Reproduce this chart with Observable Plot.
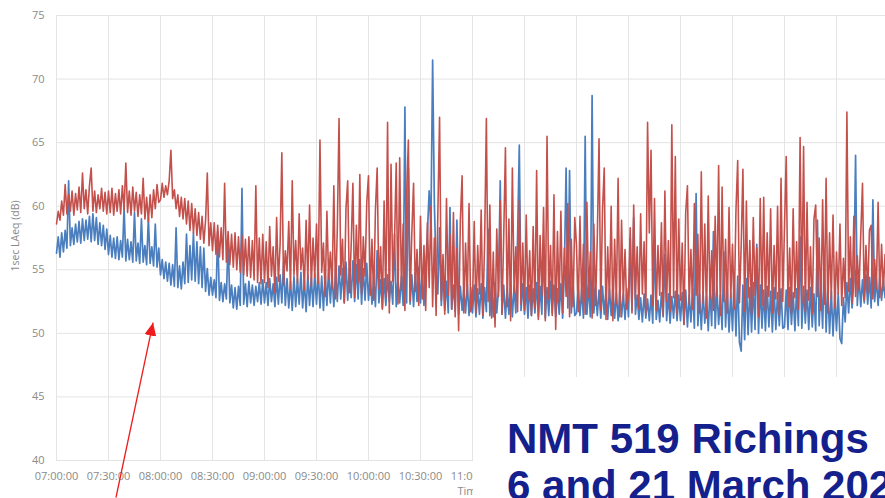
<!DOCTYPE html>
<html>
<head>
<meta charset="utf-8">
<script src="https://cdn.jsdelivr.net/npm/d3@7"></script>
<script src="https://cdn.jsdelivr.net/npm/@observablehq/plot@0.6"></script>
<style>
  html, body { margin: 0; padding: 0; background: #fff; }
  #wrap { position: relative; width: 885px; height: 498px; overflow: hidden; }
  #overlay { position: absolute; left: 0; top: 0; pointer-events: none; }
</style>
</head>
<body>
<div id="wrap"></div>
<script>
// ---- Data (1-minute samples, starting 07:00:00) ----
const stepMinutes = 1;

const gridMinutes = [0, 30, 60, 90, 120, 150, 180, 210, 240, 270, 300, 330, 360, 390, 420, 450];
const xTickMinutes = [0, 30, 60, 90, 120, 150, 180, 210, 240];
const xTickLabels = ["07:00:00","07:30:00","08:00:00","08:30:00","09:00:00","09:30:00","10:00:00","10:30:00","11:00:00"];
const yTicks = [40, 45, 50, 55, 60, 65, 70, 75];

const seriesBlueName = "6 March";
const seriesRedName = "21 March";

const blueRows = [
 [56.3,57.6,56.0,57.9,56.4,58.1,56.7,62.0,56.9,58.3,57.0,58.6,57.2,58.8,57.1,59.0,57.3,58.9,57.4,59.2,57.2,59.4,57.3,59.1,57.0,58.7,56.9,58.5,56.6,58.2],
 [56.2,57.7,56.0,57.5,55.9,57.6,55.8,57.3,56.0,59.9,55.7,57.4,55.8,57.2,55.6,59.5,55.7,57.1,55.5,59.0,55.6,56.9,55.4,59.1,55.5,56.8,55.3,58.6,55.2,56.7],
 [54.6,55.8,54.3,55.6,54.1,55.5,53.8,55.4,53.7,58.3,53.6,55.3,53.5,55.6,53.9,57.8,54.0,56.9,54.2,57.9,54.1,57.2,53.9,56.8,53.6,56.7,53.3,55.1,53.0,54.4],
 [53.0,54.2,52.8,58.0,52.6,54.0,52.5,53.9,52.7,57.5,52.4,53.8,52.0,53.6,51.9,53.7,52.2,61.4,52.3,53.9,52.1,54.1,52.4,53.8,52.2,53.7,52.5,54.0,52.3,54.2],
 [52.4,54.0,52.2,54.3,52.5,53.9,52.1,54.4,52.3,54.6,52.4,55.6,52.2,54.3,52.0,54.1,51.8,54.5,52.1,54.3,52.3,54.8,52.0,54.2,51.7,54.6,52.2,54.4,52.1,54.7],
 [52.3,54.8,52.0,54.5,51.8,54.7,52.2,55.0,52.4,54.6,52.1,54.9,52.5,55.3,52.7,55.1,52.4,55.6,52.6,55.2,52.8,55.7,52.5,55.4,52.7,55.8,52.3,55.1,52.6,55.5],
 [52.6,54.6,52.3,54.4,52.1,56.5,52.4,54.2,52.0,54.3,52.2,54.6,52.5,54.1,52.3,57.8,52.1,54.3,52.4,54.5,52.2,67.8,52.4,63.0,52.3,54.6,52.1,54.8,52.5,55.2],
 [52.4,54.9,52.2,55.3,58.0,61.2,58.4,71.5,60.2,55.0,53.1,58.3,52.2,54.8,51.8,54.1,51.6,59.9,51.9,53.8,51.7,58.9,51.5,53.7,51.8,53.5,51.6,53.9,51.4,53.6],
 [51.6,53.8,51.3,53.5,51.5,53.9,51.2,53.6,51.7,58.2,51.4,53.7,51.3,54.0,51.6,53.5,62.0,51.5,53.8,51.2,53.6,51.5,54.1,51.3,53.7,51.6,57.5,64.8,51.8,53.9],
 [51.5,53.6,51.2,53.8,51.4,53.5,51.6,54.0,51.3,53.7,51.5,56.9,51.2,53.6,51.4,54.1,51.6,53.8,51.3,53.5,51.5,53.9,51.2,55.0,63.0,52.0,62.8,51.6,54.0,51.4],
 [51.6,53.7,51.4,53.5,51.2,65.5,51.5,53.8,51.3,68.7,51.6,53.6,51.4,53.4,51.2,53.7,51.5,53.3,51.1,53.5,51.4,53.6,51.2,53.2,51.0,53.4,51.3,53.1,51.1,53.5],
 [51.3,57.5,51.8,59.1,51.5,53.0,51.1,52.8,50.9,53.1,51.2,52.7,51.0,53.0,50.8,57.4,51.1,52.6,50.9,53.2,51.3,56.2,51.0,53.1,50.8,52.9,51.2,53.3,51.0,53.0],
 [51.0,53.2,50.7,53.4,50.5,53.0,50.9,53.5,50.4,61.0,50.6,53.1,50.3,53.3,50.8,52.9,50.2,53.4,50.6,58.0,50.4,53.6,50.7,53.0,50.3,56.4,50.5,53.5,50.1,53.2],
 [50.2,54.2,49.8,54.5,49.3,48.6,53.8,49.5,54.3,49.9,53.6,50.1,54.0,50.3,57.0,50.0,53.8,50.4,53.4,50.2,53.7,50.5,53.3,50.1,53.6,50.3,53.2,50.6,53.5,50.4],
 [50.5,53.4,50.3,53.6,50.7,53.2,50.2,53.5,50.6,57.6,50.4,53.7,50.8,53.4,50.3,53.6,50.5,53.1,50.2,58.9,50.6,53.8,50.4,56.2,50.1,53.6,50.0,53.3,49.8,53.0],
 [50.2,53.2,49.6,49.2,52.8,50.9,54.0,51.6,54.3,52.0,54.1,64.0,52.2,54.5,52.1,54.2,52.4,54.6,52.3,54.4,52.0,60.5,52.5,54.3,52.2,54.6,52.6,54.2,52.8,54.4]
];

const redRows = [
 [58.6,59.6,58.9,60.4,59.3,61.7,59.4,60.9,59.6,61.2,59.3,61.0,59.7,61.5,59.5,62.6,59.8,61.3,59.4,61.6,63.0,59.6,61.2,59.5,60.9,59.8,61.4,59.6,61.1,59.4],
 [61.2,59.5,61.4,59.3,61.0,59.6,61.3,59.4,61.6,59.7,63.4,59.5,61.2,59.3,61.5,59.6,61.1,59.2,60.9,59.4,62.2,59.0,60.7,58.8,60.9,59.1,61.3,59.8,61.7,60.3],
 [60.5,61.8,60.7,61.6,60.9,62.0,64.4,60.6,61.3,59.8,60.9,59.2,60.7,59.0,60.6,58.6,60.4,58.1,60.2,57.9,59.8,57.7,59.5,57.4,59.2,57.1,58.9,62.6,56.9,58.7],
 [56.5,58.7,56.2,58.5,56.0,58.3,55.8,61.8,55.6,58.0,55.4,57.8,55.2,57.9,55.0,57.6,54.8,57.7,54.6,57.4,54.5,57.6,54.4,57.3,54.2,61.6,54.0,57.5,53.9,57.8],
 [54.0,57.2,53.6,58.4,54.5,56.8,53.2,59.1,54.1,57.0,64.2,53.8,56.5,54.9,58.8,53.5,62.0,54.6,57.3,53.9,59.4,55.0,56.7,53.4,58.9,54.2,60.1,53.7,57.5,54.4],
 [58.6,53.9,65.2,54.8,57.1,52.9,59.6,54.3,56.4,53.5,61.6,52.7,58.2,66.9,54.6,57.4,52.4,59.8,62.0,53.2,56.9,61.8,52.8,58.5,54.0,62.5,53.1,57.6,54.5,60.3],
 [62.4,53.0,57.4,52.6,59.7,63.0,53.5,56.8,51.9,60.4,52.8,66.6,51.6,63.3,54.1,57.2,63.4,52.3,63.8,53.4,58.6,51.8,60.9,65.2,52.5,57.9,61.8,53.3,56.6,52.2],
 [59.2,52.7,56.9,51.8,58.7,53.6,60.0,52.1,57.5,51.4,59.3,67.0,52.6,56.2,51.5,60.6,53.0,57.8,51.9,59.5,51.3,56.7,50.2,58.9,62.4,51.6,57.1,52.9,60.2,51.7],
 [52.4,58.8,51.6,56.9,53.1,59.7,51.4,57.3,66.9,52.5,60.1,51.2,56.4,50.5,58.2,52.9,60.4,51.5,57.6,64.6,52.1,59.0,51.0,63.0,53.2,56.8,51.7,60.5,52.3,57.1],
 [51.8,59.3,52.6,56.5,51.4,58.4,52.0,62.8,51.1,57.7,53.0,59.9,51.0,65.5,52.7,56.9,51.4,60.9,50.3,58.0,52.4,59.6,51.6,56.7,52.9,60.2,51.3,57.4,52.1,59.1],
 [56.9,51.7,59.2,52.4,57.0,51.5,60.3,52.8,56.4,51.2,58.6,52.2,57.5,65.3,51.8,59.7,63.0,51.1,56.8,52.6,60.0,51.0,57.4,52.3,62.2,51.3,58.9,52.5,56.6,51.9],
 [53.0,58.3,51.6,60.1,52.7,56.8,51.9,59.4,53.1,57.2,51.5,66.6,57.9,64.4,52.2,60.6,51.8,56.9,53.0,58.7,51.4,61.2,52.5,57.3,51.7,66.4,52.8,63.9,51.5,59.0],
 [52.6,57.1,50.7,59.5,61.6,52.3,56.6,51.9,60.2,53.0,57.8,51.6,62.7,52.4,58.6,51.2,60.8,52.7,56.5,51.8,59.2,52.9,63.2,51.4,61.5,52.5,57.4,51.6,59.9,52.8],
 [57.0,51.9,59.7,63.6,52.4,56.8,62.9,51.7,60.4,52.8,57.3,51.5,59.1,53.0,56.7,51.3,60.6,52.2,60.7,51.8,57.9,52.9,59.8,51.6,56.9,52.7,60.0,51.4,62.2,52.5],
 [58.4,63.9,52.1,56.7,51.6,59.8,52.8,57.2,51.9,65.4,52.4,64.7,51.7,60.3,52.6,56.8,51.5,59.0,60.1,52.9,57.5,51.8,60.5,52.3,62.2,51.6,57.9,52.7,59.3,52.0],
 [56.4,53.1,58.6,52.2,55.9,52.8,67.4,53.3,57.6,52.4,59.2,52.9,56.1,53.4,57.8,61.8,52.6,56.9,53.2,58.1,58.5,52.7,55.8,53.5,60.3,52.8,57.0,53.4,56.2,52.9]
];

const titleLine1 = "NMT 519 Richings";
const titleLine2 = "6 and 21 March 2021";
const xAxisTitle = "Time";
const yAxisTitle = "1sec LAeq (dB)";

// arrow annotation in data coordinates (minutes since 07:00, dB)
const arrowFrom = {x: 34.6, y: 37.05};
const arrowTo = {x: 56.0, y: 50.8};

// ---- Build ----
const blue = blueRows.flat().map((v, i) => ({t: i * stepMinutes, v, s: seriesBlueName}));
const red = redRows.flat().map((v, i) => ({t: i * stepMinutes, v, s: seriesRedName}));

const W = 885, H = 498;
const mL = 56, mR = 0, mT = 15, mB = 38;
const pxPer30 = 52;
const xMax = (W - mL - mR) / pxPer30 * 30;

const plot = Plot.plot({
  width: W, height: H,
  marginLeft: mL, marginRight: mR, marginTop: mT, marginBottom: mB,
  style: {fontFamily: "'Open Sans', sans-serif", fontSize: "11px", color: "#8a8a8a", background: "#fff", overflow: "visible"},
  x: {domain: [0, xMax], ticks: xTickMinutes, tickFormat: d => xTickLabels[xTickMinutes.indexOf(d)], tickSize: 0, tickPadding: 12, label: null},
  y: {domain: [40, 75], ticks: yTicks, tickSize: 0, tickPadding: 12, label: null},
  marks: [
    Plot.ruleX(gridMinutes, {stroke: "#e4e4e4", strokeWidth: 1}),
    Plot.ruleY(yTicks, {stroke: "#e4e4e4", strokeWidth: 1}),
    Plot.lineY(blue, {x: "t", y: "v", stroke: "#4a7ebf", strokeWidth: 1.7, curve: "linear"}),
    Plot.lineY(red, {x: "t", y: "v", stroke: "#c4504c", strokeWidth: 1.6, curve: "linear"})
  ]
});

const wrap = document.getElementById("wrap");
wrap.appendChild(plot);

const sx = plot.scale("x"), sy = plot.scale("y");
const ov = d3.select(wrap).append("svg")
  .attr("id", "overlay").attr("width", W).attr("height", H);

// axis titles
ov.append("text")
  .attr("transform", `translate(19,236) rotate(-90)`)
  .attr("text-anchor", "middle")
  .attr("font-family", "'Open Sans', sans-serif").attr("font-size", 10.5)
  .attr("fill", "#8a8a8a").text(yAxisTitle);
ov.append("text")
  .attr("x", 470).attr("y", 495).attr("text-anchor", "middle")
  .attr("font-family", "'Open Sans', sans-serif").attr("font-size", 11)
  .attr("fill", "#8a8a8a").text(xAxisTitle);

// white title panel over the chart
ov.append("rect").attr("x", 473).attr("y", 377).attr("width", W - 473).attr("height", H - 377).attr("fill", "#fff");
ov.append("text").attr("x", 507).attr("y", 453)
  .attr("font-family", "'Liberation Sans', Arial, sans-serif").attr("font-weight", "bold").attr("font-size", 42)
  .attr("fill", "#14208c").text(titleLine1);
ov.append("text").attr("x", 507).attr("y", 500)
  .attr("font-family", "'Liberation Sans', Arial, sans-serif").attr("font-weight", "bold").attr("font-size", 42)
  .attr("fill", "#14208c").text(titleLine2);

// red arrow
ov.append("defs").append("marker")
  .attr("id", "ah").attr("markerUnits", "userSpaceOnUse")
  .attr("markerWidth", 14).attr("markerHeight", 13)
  .attr("refX", 13).attr("refY", 6).attr("orient", "auto")
  .append("path").attr("d", "M0,0 L13,6 L0,12 Z").attr("fill", "#ee1c1c");
ov.append("line")
  .attr("x1", sx.apply(arrowFrom.x)).attr("y1", sy.apply(arrowFrom.y))
  .attr("x2", sx.apply(arrowTo.x)).attr("y2", sy.apply(arrowTo.y))
  .attr("stroke", "#ee1c1c").attr("stroke-width", 1.3)
  .attr("marker-end", "url(#ah)");
</script>
</body>
</html>
